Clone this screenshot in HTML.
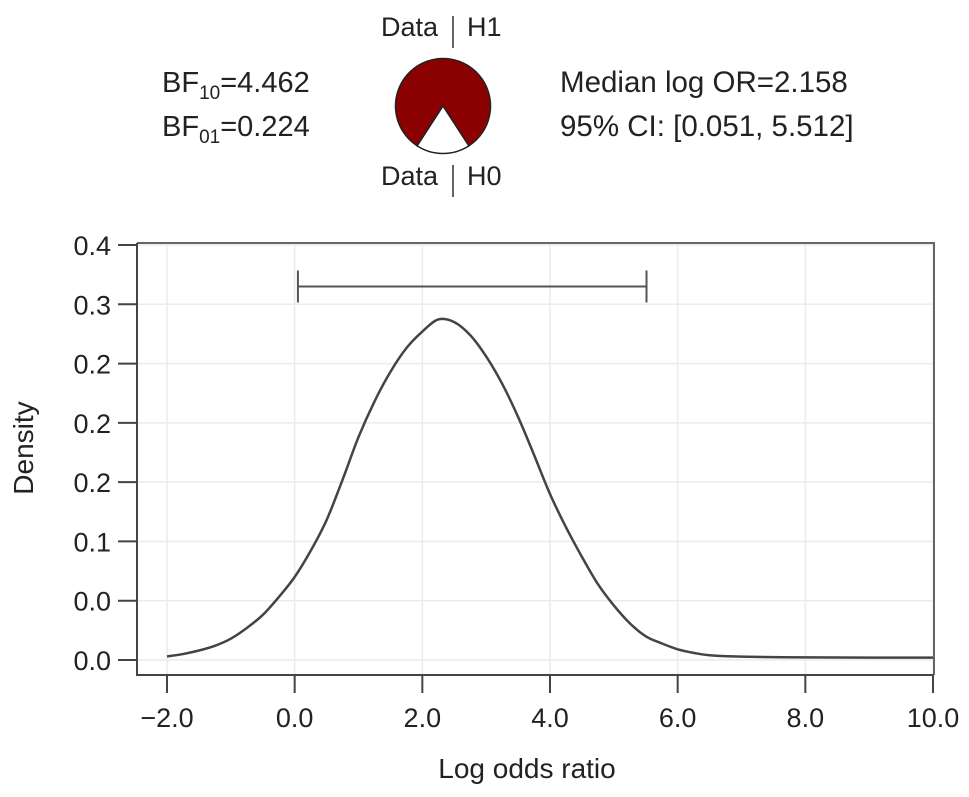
<!DOCTYPE html>
<html><head><meta charset="utf-8"><style>
body{margin:0;background:#fff;}
svg{display:block;font-family:"Liberation Sans",Arial,sans-serif;}
</style></head><body>
<svg id="chart" width="969" height="797" viewBox="0 0 969 797">
<g id="header">
<text x="162" y="92" font-size="29" fill="#222">BF<tspan font-size="19" dy="7">10</tspan><tspan dy="-7">=4.462</tspan></text>
<text x="162" y="136" font-size="29" fill="#222">BF<tspan font-size="19" dy="7">01</tspan><tspan dy="-7">=0.224</tspan></text>
<text x="560" y="92" font-size="29.5" fill="#222">Median log OR=2.158</text>
<text x="560" y="136" font-size="29.5" fill="#222">95% CI: [0.051, 5.512]</text>
<text x="438" y="36" font-size="27" fill="#222" text-anchor="end">Data</text>
<line x1="453" y1="16" x2="453" y2="48" stroke="#333" stroke-width="1.5"/>
<text x="467" y="36" font-size="27" fill="#222">H1</text>
<text x="438" y="185" font-size="27" fill="#222" text-anchor="end">Data</text>
<line x1="453" y1="165" x2="453" y2="197" stroke="#333" stroke-width="1.5"/>
<text x="467" y="185" font-size="27" fill="#222">H0</text>
<g id="pie"></g>
</g>
<g id="plot"></g>
<text x="527" y="778" font-size="28" fill="#222" text-anchor="middle">Log odds ratio</text>
<text transform="translate(33,448) rotate(-90)" font-size="28" fill="#222" text-anchor="middle">Density</text>
</svg>
<script>
const xs = [-2,-1.75,-1.5,-1.25,-1,-0.75,-0.5,-0.25,0,0.25,0.5,0.75,1,1.25,1.5,1.75,2,2.25,2.5,2.75,3,3.25,3.5,3.75,4,4.25,4.5,4.75,5,5.25,5.5,5.75,6,6.25,6.5,7,8,9,10];
const dens = [0.003,0.005,0.008,0.012,0.018,0.027,0.038,0.053,0.070,0.092,0.118,0.152,0.188,0.218,0.243,0.263,0.277,0.2872,0.285,0.274,0.256,0.233,0.205,0.173,0.140,0.112,0.087,0.064,0.046,0.031,0.020,0.014,0.009,0.006,0.004,0.0028,0.0022,0.002,0.002];
const xTicks = [-2,0,2,4,6,8,10];
const xTickLabels = ["\u22122.0","0.0","2.0","4.0","6.0","8.0","10.0"];
const yTicks = [0,0.05,0.10,0.15,0.20,0.25,0.30,0.35];
const yTickLabels = ["0.0","0.0","0.1","0.2","0.2","0.2","0.3","0.4"];
const ciLow = 0.051, ciHigh = 5.512, ciY = 0.315;
const bf10 = 4.462;

const NS="http://www.w3.org/2000/svg";
const X = v => 167 + (v + 2) * (933 - 167) / 12;
const Y = v => 660 - v * (660 - 245) / 0.35;
function mk(tag, attrs, parent){const e=document.createElementNS(NS,tag);for(const k in attrs)e.setAttribute(k,attrs[k]);parent.appendChild(e);return e;}
const plot=document.getElementById('plot');
xTicks.forEach(t=>{const l=mk('line',{x1:X(t),x2:X(t),y1:243,y2:675,stroke:'#ebebeb','stroke-width':1.5},plot);

});
yTicks.forEach(t=>{const l=mk('line',{x1:137,x2:934,y1:Y(t),y2:Y(t),stroke:'#ebebeb','stroke-width':1.5},plot);

});
const box=mk('path',{d:'M137,243H934V675',fill:'none',stroke:'#666','stroke-width':2},plot);


const ya=mk('line',{x1:137,x2:137,y1:243,y2:676,stroke:'#444','stroke-width':2},plot);


const xa=mk('line',{x1:136,x2:934,y1:675,y2:675,stroke:'#444','stroke-width':2},plot);


yTicks.forEach((t,i)=>{mk('line',{x1:118,x2:137,y1:Y(t),y2:Y(t),stroke:'#444','stroke-width':2},plot);
const tx=mk('text',{x:111,y:Y(t)+10,'font-size':27,'text-anchor':'end',fill:'#222'},plot);tx.textContent=yTickLabels[i];

});
xTicks.forEach((t,i)=>{mk('line',{x1:X(t),x2:X(t),y1:675,y2:693,stroke:'#444','stroke-width':2},plot);
const tx=mk('text',{x:X(t),y:727,'font-size':27,'text-anchor':'middle',fill:'#222'},plot);tx.textContent=xTickLabels[i];

});
const ci=mk('path',{d:`M${X(ciLow)},${Y(ciY)-16}V${Y(ciY)+16}M${X(ciLow)},${Y(ciY)}H${X(ciHigh)}M${X(ciHigh)},${Y(ciY)-16}V${Y(ciY)+16}`,stroke:'#555','stroke-width':2,fill:'none'},plot);


const pts=xs.map((x,i)=>[X(x),Y(dens[i])]);
let d=`M${pts[0][0]},${pts[0][1]}`;
for(let i=0;i<pts.length-1;i++){const p0=pts[Math.max(0,i-1)],p1=pts[i],p2=pts[i+1],p3=pts[Math.min(pts.length-1,i+2)];
d+=`C${p1[0]+(p2[0]-p0[0])/6},${p1[1]+(p2[1]-p0[1])/6} ${p2[0]-(p3[0]-p1[0])/6},${p2[1]-(p3[1]-p1[1])/6} ${p2[0]},${p2[1]}`;}
const c=mk('path',{d:d,stroke:'#444','stroke-width':2.5,fill:'none'},plot);


const pie=document.getElementById('pie');
const cx=443,cy=106,r=47.5;
const p0=1/(1+bf10);const half=p0*Math.PI;
const a1=Math.PI/2-half,a2=Math.PI/2+half;
const pt=a=>[cx+r*Math.cos(a),cy+r*Math.sin(a)];
const [x1,y1]=pt(a1),[x2,y2]=pt(a2);
const h1=mk('path',{d:`M${cx},${cy}L${x2},${y2}A${r},${r} 0 1 1 ${x1},${y1}Z`,fill:'#8b0000',stroke:'#222','stroke-width':1.5},pie);


const h0=mk('path',{d:`M${cx},${cy}L${x1},${y1}A${r},${r} 0 0 1 ${x2},${y2}Z`,fill:'#fff',stroke:'#222','stroke-width':1.5},pie);


</script>
</body></html>
